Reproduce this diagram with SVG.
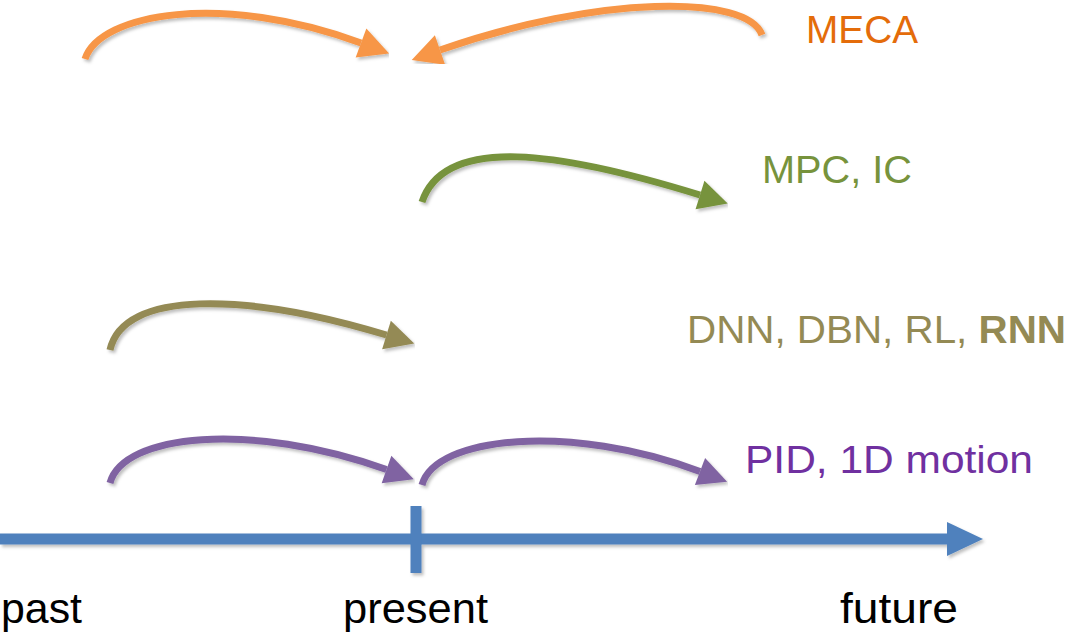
<svg xmlns="http://www.w3.org/2000/svg" width="1068" height="636" viewBox="0 0 1068 636">
  <defs>
    <filter id="sh" x="-10%" y="-30%" width="120%" height="160%">
      <feDropShadow dx="2" dy="2.5" stdDeviation="1.5" flood-color="#000" flood-opacity="0.25"/>
    </filter>
    <marker id="hOrange" markerUnits="userSpaceOnUse" markerWidth="34" markerHeight="34" refX="0" refY="0" viewBox="0 -17 34 34" orient="auto" overflow="visible">
      <path d="M0,-15.5 L30,0 L0,15.5 Z" fill="#F79646"/>
    </marker>
    <marker id="hGreen" markerUnits="userSpaceOnUse" markerWidth="34" markerHeight="34" refX="0" refY="0" viewBox="0 -17 34 34" orient="auto" overflow="visible">
      <path d="M0,-15 L29,0 L0,15 Z" fill="#77933C"/>
    </marker>
    <marker id="hOlive" markerUnits="userSpaceOnUse" markerWidth="34" markerHeight="34" refX="0" refY="0" viewBox="0 -17 34 34" orient="auto" overflow="visible">
      <path d="M0,-15 L29,0 L0,15 Z" fill="#948A54"/>
    </marker>
    <marker id="hPurple" markerUnits="userSpaceOnUse" markerWidth="34" markerHeight="34" refX="0" refY="0" viewBox="0 -17 34 34" orient="auto" overflow="visible">
      <path d="M0,-14.5 L29,0 L0,14.5 Z" fill="#8064A2"/>
    </marker>
  </defs>
  <style>
    .arc { fill: none; stroke-width: 7; stroke-linecap: butt; filter: url(#sh); }
    .orange { stroke: #F79646; marker-end: url(#hOrange); }
    .green { stroke: #77933C; marker-end: url(#hGreen); }
    .olive { stroke: #948A54; marker-end: url(#hOlive); }
    .purple { stroke: #8064A2; marker-end: url(#hPurple); }
    .lbl { font-family: "Liberation Sans", Arial, sans-serif; font-size: 38px; }
    .axis { font-family: "Liberation Sans", Arial, sans-serif; font-size: 42px; fill: #000; }
  </style>
  <rect width="1068" height="636" fill="#fff"/>

  <g id="timeline" filter="url(#sh)">
    <line x1="0" y1="539" x2="950" y2="539" stroke="#4F81BD" stroke-width="11"/>
    <polygon points="947,522 983,539 947,556" fill="#4F81BD"/>
    <rect x="410.5" y="506" width="11" height="67" fill="#4F81BD"/>
  </g>

  <g id="connectors">
    <path class="arc orange" d="M85,59 C100,13 223,-8 361,43"/>
    <path class="arc orange" d="M762,35 C748,-6 597.5,-5 440,50"/>
    <path class="arc green" d="M422,202 C445,134 560.6,152 700,195"/>
    <path class="arc olive" d="M110,350 C123,290 244.5,292 386.5,335"/>
    <path class="arc purple" d="M110,483 C123,434 250,421 386.5,469.5"/>
    <path class="arc purple" d="M422,485 C435,436 571,423 700,471.5"/>
  </g>

  <g id="label-meca">
    <text class="lbl" x="806" y="43" font-size="39" fill="#E46C0A" textLength="112" lengthAdjust="spacingAndGlyphs">MECA</text>
  </g>
  <g id="label-mpc">
    <text class="lbl" x="762" y="183" fill="#77933C" textLength="150" lengthAdjust="spacingAndGlyphs">MPC, IC</text>
  </g>
  <g id="label-dnn">
    <text class="lbl" x="687" y="343" fill="#948A54" textLength="379" lengthAdjust="spacingAndGlyphs">DNN, DBN, RL, <tspan font-weight="bold">RNN</tspan></text>
  </g>
  <g id="label-pid">
    <text class="lbl" x="745" y="473" fill="#7030A0" textLength="288" lengthAdjust="spacingAndGlyphs">PID, 1D motion</text>
  </g>
  <g id="label-past">
    <text class="axis" x="1" y="623" textLength="81" lengthAdjust="spacingAndGlyphs">past</text>
  </g>
  <g id="label-present">
    <text class="axis" x="343" y="623" textLength="145" lengthAdjust="spacingAndGlyphs">present</text>
  </g>
  <g id="label-future">
    <text class="axis" x="840" y="623" textLength="118" lengthAdjust="spacingAndGlyphs">future</text>
  </g>
</svg>
